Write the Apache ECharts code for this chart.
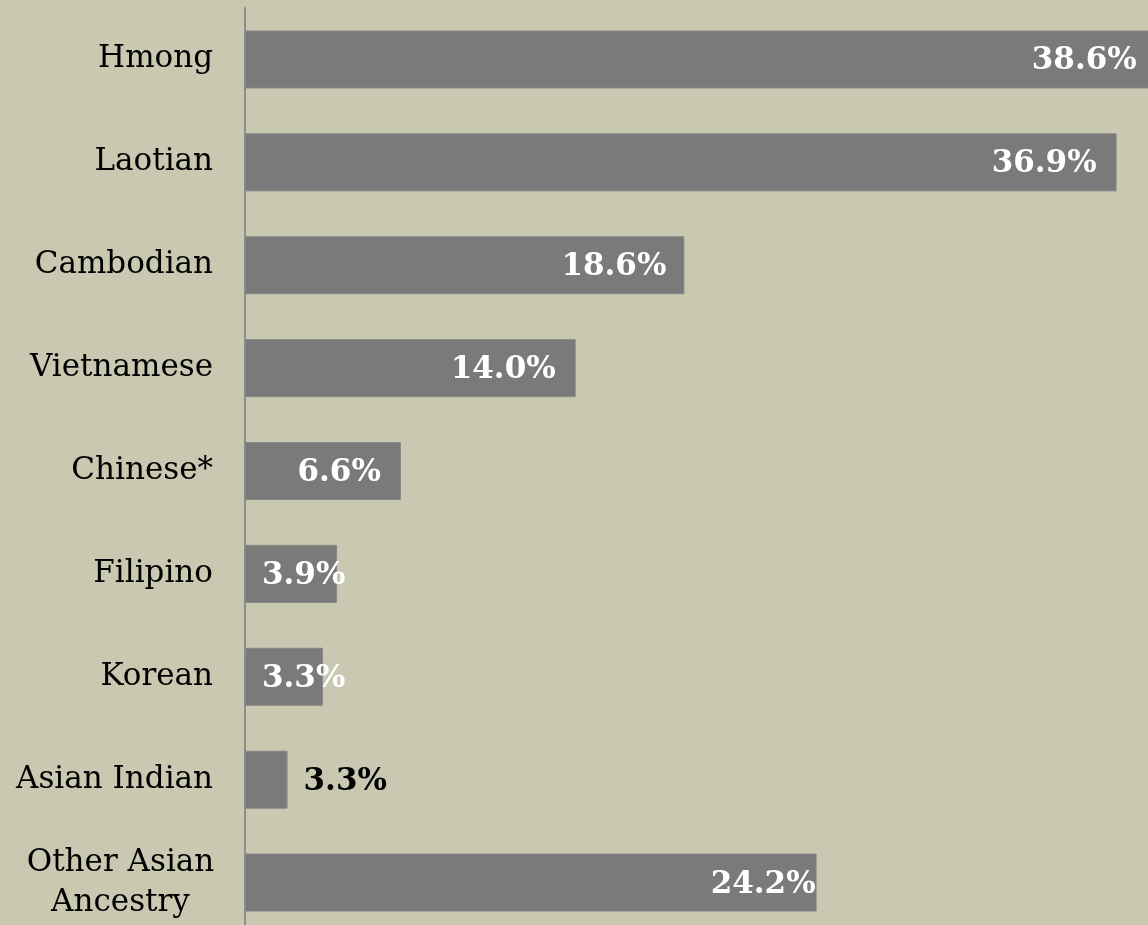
<!DOCTYPE html>
<html><head><meta charset="utf-8">
<script src="https://cdn.jsdelivr.net/npm/echarts@6/dist/echarts.min.js"></script>
<style>html,body{margin:0;padding:0;background:#c9c8b0;} #c{width:1148px;height:925px;}</style>
</head><body><div id="c"></div>
<script>
const categories = ['Hmong','Laotian','Cambodian','Vietnamese','Chinese*','Filipino','Korean','Asian Indian','Other Asian Ancestry'];
const values = [38.6, 36.9, 18.6, 14.0, 6.6, 3.9, 3.3, 1.8, 24.2];
const valueLabels = ['38.6%','36.9%','18.6%','14.0%','6.6%','3.9%','3.3%','3.3%','24.2%'];
const labelPlacement = ['insideRight','insideRight','insideRight','insideRight','insideRight','insideLeft','insideLeft','right','insideRight'];
const labelDistance = [20, 20, 18, 20, 20, 17, 17, 16, 1];
const labelColor = ['#fff','#fff','#fff','#fff','#fff','#fff','#fff','#000','#fff'];

const chart = echarts.init(document.getElementById('c'), null, {renderer: 'canvas'});
const serif = 'DejaVu Serif';
chart.setOption({
  backgroundColor: '#c9c8b0',
  animation: false,
  grid: {left: 245, right: 0, top: 8, height: 926, outerBoundsMode: 'none', containLabel: false},
  xAxis: {type: 'value', min: 0, max: 38.23, show: false, splitLine: {show: false}},
  yAxis: {
    type: 'category', inverse: true, data: categories,
    axisLine: {show: true, lineStyle: {color: '#8c8c8c', width: 2}},
    axisTick: {show: false},
    axisLabel: {
      margin: 32, color: '#000', fontFamily: serif, fontSize: 31,
      formatter: function (v) {
        if (v === 'Other Asian Ancestry') return '{c|Other Asian}\n{c|Ancestry}';
        return v;
      },
      rich: {c: {width: 185, align: 'center', fontFamily: serif, fontSize: 31, lineHeight: 40, color: '#000'}}
    }
  },
  series: [{
    type: 'bar', clip: false, barWidth: 58,
    itemStyle: {color: '#7a7a7a', borderColor: '#878787', borderWidth: 1},
    data: values.map((v, i) => ({
      value: v,
      label: {
        show: true, position: labelPlacement[i], distance: labelDistance[i],
        color: labelColor[i], fontFamily: serif, fontWeight: 'bold', fontSize: 31,
        offset: [0, 2],
        formatter: valueLabels[i]
      }
    }))
  }]
});
</script></body></html>
